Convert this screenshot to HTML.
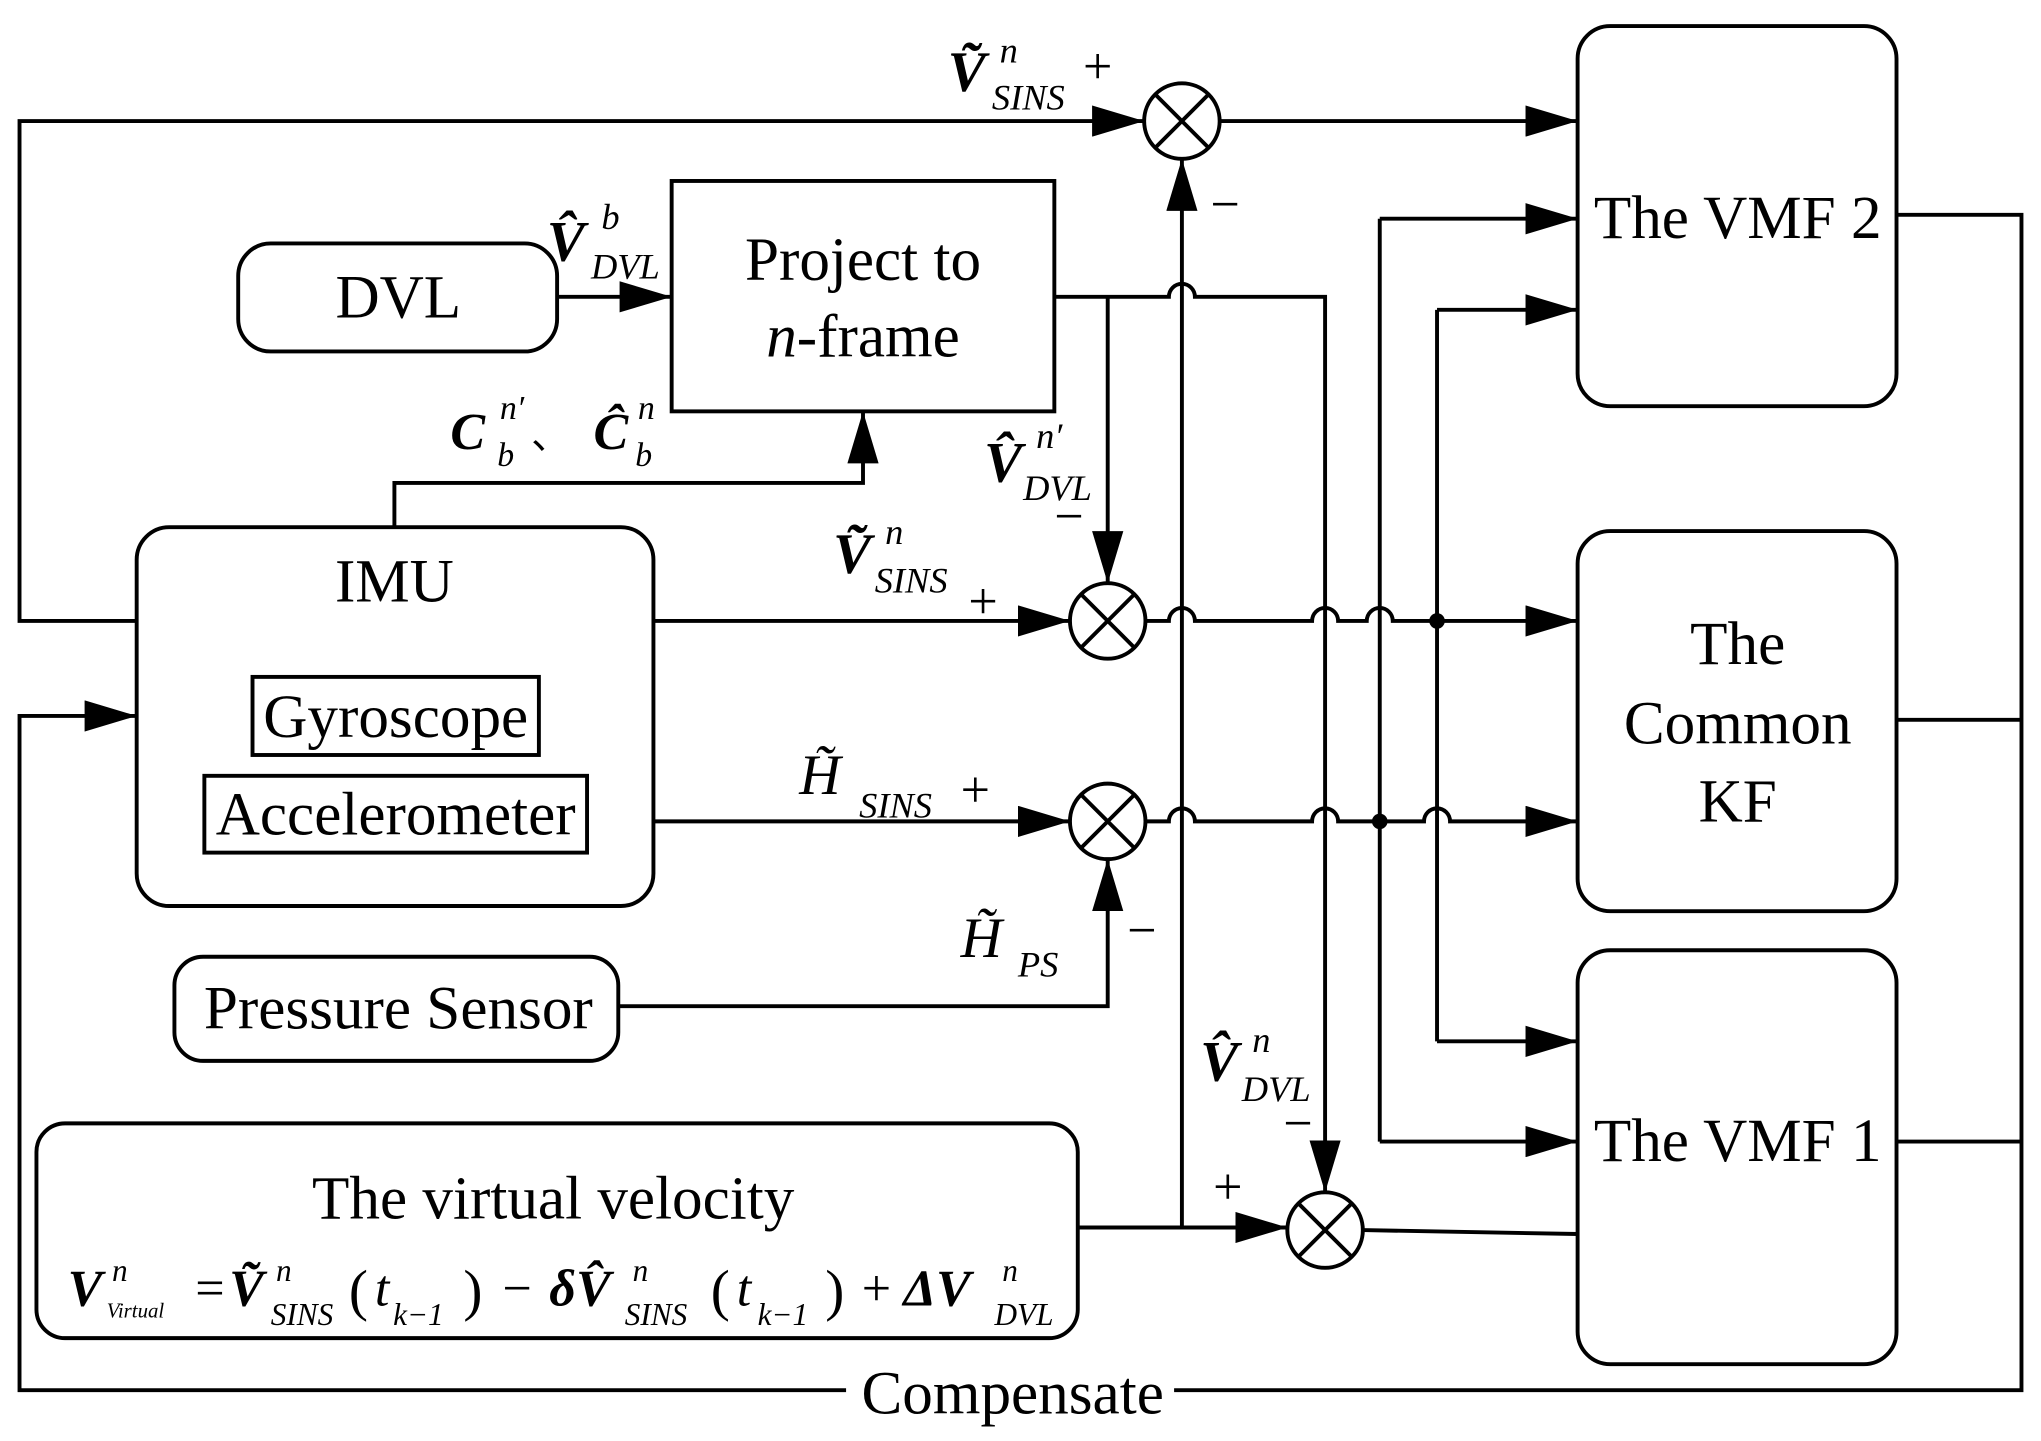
<!DOCTYPE html>
<html><head><meta charset="utf-8"><style>
html,body{margin:0;padding:0;background:#fff;}
svg{display:block;}
text{font-family:"Liberation Serif",serif;fill:#000;}
.bi{font-style:italic;font-weight:bold;}
.i{font-style:italic;}
</style></head><body>
<svg width="2041" height="1441" viewBox="0 0 1568 1107" xmlns="http://www.w3.org/2000/svg">
<defs>
<marker id="A" viewBox="0 0 40 24" refX="40" refY="12" markerWidth="40" markerHeight="24" orient="auto" markerUnits="userSpaceOnUse"><path d="M0,0 L40,12 L0,24 z" fill="#000"/></marker>
<g id="cx"><circle r="29" fill="#fff" stroke="#000" stroke-width="3"/><path d="M-20,-20 L20,20 M-20,20 L20,-20" stroke="#000" stroke-width="3"/></g>
</defs>
<g fill="none" stroke="#000" stroke-width="3">
<rect x="1212" y="20" width="245" height="292" rx="25"/>
<rect x="1212" y="408" width="245" height="292" rx="25"/>
<rect x="1212" y="730" width="245" height="318" rx="25"/>
<rect x="183" y="187" width="245" height="83" rx="25"/>
<rect x="516" y="139" width="294" height="177"/>
<rect x="105" y="405" width="397" height="291" rx="25"/>
<rect x="194" y="520" width="220" height="60"/>
<rect x="157" y="596" width="294" height="59"/>
<rect x="134" y="735" width="341" height="80" rx="22"/>
<rect x="28" y="863" width="800" height="165" rx="22"/>
<path d="M105,477 H15 V93 H879" marker-end="url(#A)"/>
<path d="M937,93 H1212" marker-end="url(#A)"/>
<path d="M428,228 H516" marker-end="url(#A)"/>
<path d="M810,228 H898 a10,10 0 0 1 20,0 H1018 V916" marker-end="url(#A)"/>
<path d="M851,228 V448" marker-end="url(#A)"/>
<path d="M303,405 V371 H663 V316" marker-end="url(#A)"/>
<path d="M502,477 H822" marker-end="url(#A)"/>
<path d="M880,477 H898 a10,10 0 0 1 20,0 H1008 a10,10 0 0 1 20,0 H1050 a10,10 0 0 1 20,0 H1212" marker-end="url(#A)"/>
<path d="M502,631 H822" marker-end="url(#A)"/>
<path d="M880,631 H898 a10,10 0 0 1 20,0 H1008 a10,10 0 0 1 20,0 H1094 a10,10 0 0 1 20,0 H1212" marker-end="url(#A)"/>
<path d="M1060,168 V877"/>
<path d="M1060,168 H1212" marker-end="url(#A)"/>
<path d="M1060,877 H1212" marker-end="url(#A)"/>
<path d="M1104,238 V800"/>
<path d="M1104,238 H1212" marker-end="url(#A)"/>
<path d="M1104,800 H1212" marker-end="url(#A)"/>
<path d="M908,943 V122" marker-end="url(#A)"/>
<path d="M475,773 H851 V660" marker-end="url(#A)"/>
<path d="M828,943 H989" marker-end="url(#A)"/>
<path d="M1047,945 L1212,948"/>
<path d="M1457,165 H1553 V1068 H15 V550 H105" marker-end="url(#A)"/>
<path d="M1457,553 H1553 M1457,877 H1553"/>
</g>
<circle cx="1104" cy="477" r="6"/>
<circle cx="1060" cy="631" r="6"/>
<use href="#cx" x="908" y="93"/>
<use href="#cx" x="851" y="477"/>
<use href="#cx" x="851" y="631"/>
<use href="#cx" x="1018" y="945"/>
<rect x="650" y="1050" width="252" height="38" fill="#fff"/>
<g font-size="47" text-anchor="middle">
<text x="1335" y="183">The VMF 2</text>
<text x="1335" y="510">The</text>
<text x="1335" y="571">Common</text>
<text x="1335" y="631">KF</text>
<text x="1335" y="892">The VMF 1</text>
<text x="306" y="244">DVL</text>
<text x="663" y="215">Project to</text>
<text x="663" y="274"><tspan class="i">n</tspan>-frame</text>
<text x="303" y="462">IMU</text>
<text x="304" y="566">Gyroscope</text>
<text x="304" y="641">Accelerometer</text>
<text x="306" y="790">Pressure Sensor</text>
<text x="425" y="936">The virtual velocity</text>
<text x="778" y="1086">Compensate</text>
</g>
<g font-size="44">
<text x="728" y="70" class="bi">Ṽ</text><text x="768" y="48" class="i" font-size="28">n</text><text x="762" y="84" class="i" font-size="28">SINS</text><text x="832" y="64" font-size="40">+</text>
<text x="930" y="170" font-size="40">−</text>
<text x="420" y="200" class="bi">V̂</text><text x="462" y="176" class="i" font-size="28">b</text><text x="454" y="214" class="i" font-size="28">DVL</text>
<text x="346" y="345" class="bi" font-size="40">C</text><text x="384" y="322" class="i" font-size="26">n′</text><text x="382" y="358" class="i" font-size="26">b</text><text x="408" y="345" font-size="30">、</text>
<text x="456" y="345" class="bi" font-size="40">Ĉ</text><text x="490" y="322" class="i" font-size="26">n</text><text x="488" y="358" class="i" font-size="26">b</text>
<text x="756" y="370" class="bi">V̂</text><text x="796" y="344" class="i" font-size="28">n′</text><text x="786" y="384" class="i" font-size="28">DVL</text><text x="810" y="410" font-size="40">−</text>
<text x="640" y="440" class="bi">Ṽ</text><text x="680" y="418" class="i" font-size="28">n</text><text x="672" y="455" class="i" font-size="28">SINS</text><text x="744" y="475" font-size="40">+</text>
<text x="614" y="610" class="i">H̃</text><text x="660" y="628" class="i" font-size="28">SINS</text><text x="738" y="620" font-size="40">+</text>
<text x="738" y="735" class="i">H̃</text><text x="782" y="750" class="i" font-size="28">PS</text><text x="866" y="728" font-size="40">−</text>
<text x="922" y="830" class="bi">V̂</text><text x="962" y="808" class="i" font-size="28">n</text><text x="954" y="846" class="i" font-size="28">DVL</text><text x="986" y="876" font-size="40">−</text>
<text x="932" y="925" font-size="40">+</text>
<text x="52" y="1003" class="bi" font-size="40">V</text><text x="86" y="984" class="i" font-size="24">n</text><text x="82" y="1012" class="i" font-size="16">Virtual</text>
<text x="150" y="1003" font-size="40">=</text><text x="176" y="1003" class="bi" font-size="40">Ṽ</text><text x="212" y="984" class="i" font-size="24">n</text><text x="208" y="1018" class="i" font-size="24">SINS</text>
<text x="268" y="1006" font-size="44">(</text><text x="288" y="1003" class="i" font-size="40">t</text><text x="302" y="1018" class="i" font-size="24">k−1</text><text x="356" y="1006" font-size="44">)</text>
<text x="386" y="1003" font-size="40">−</text><text x="422" y="1003" class="bi" font-size="40">δV̂</text><text x="486" y="984" class="i" font-size="24">n</text><text x="480" y="1018" class="i" font-size="24">SINS</text>
<text x="546" y="1006" font-size="44">(</text><text x="566" y="1003" class="i" font-size="40">t</text><text x="582" y="1018" class="i" font-size="24">k−1</text><text x="634" y="1006" font-size="44">)</text>
<text x="662" y="1003" font-size="40">+</text><text x="694" y="1003" class="bi" font-size="40">ΔV</text><text x="770" y="984" class="i" font-size="24">n</text><text x="764" y="1018" class="i" font-size="24">DVL</text>
</g>
</svg>
</body></html>
